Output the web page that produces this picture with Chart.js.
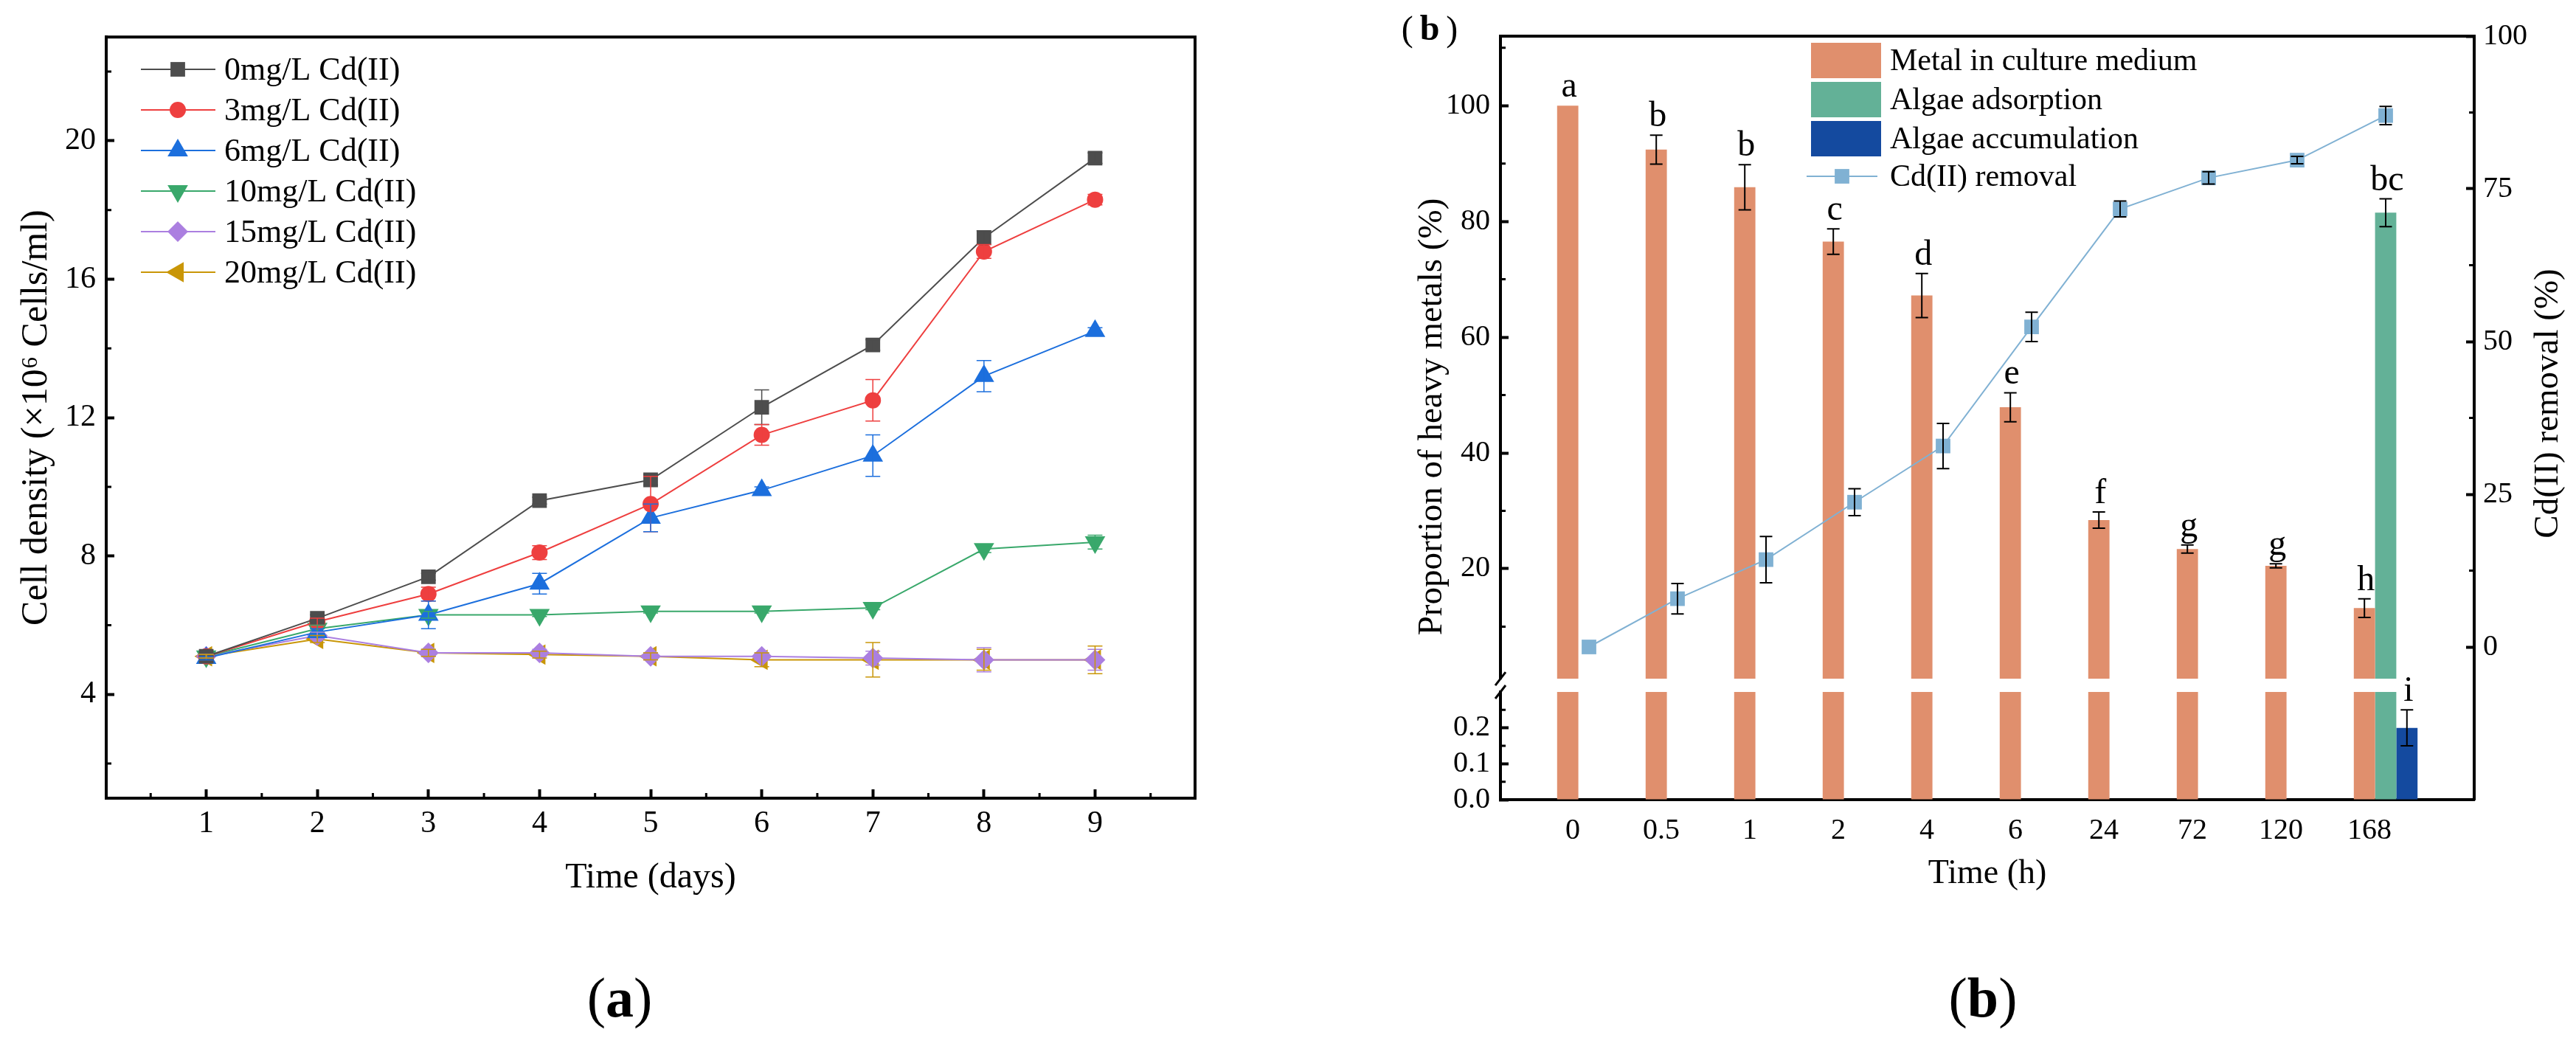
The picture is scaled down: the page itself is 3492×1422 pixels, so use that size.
<!DOCTYPE html>
<html>
<head>
<meta charset="utf-8">
<title>Cd(II) growth and removal</title>
<script src="https://cdn.jsdelivr.net/npm/chart.js@4.4.1/dist/chart.umd.min.js"></script>
<style>
  html, body { margin: 0; padding: 0; background: #fff; }
  #page { position: relative; width: 3492px; height: 1422px; overflow: hidden; }
  #page canvas { position: absolute; top: 0; }
  #growthChart { left: 0; }
  #removalChart { left: 1746px; }
</style>
</head>
<body>
<div id="page">
  <canvas id="growthChart" width="1746" height="1422" style="width:1746px;height:1422px"></canvas>
  <canvas id="removalChart" width="1746" height="1422" style="width:1746px;height:1422px"></canvas>
</div>
<script>
// ---------- (a) cell density ----------
const days = [1, 2, 3, 4, 5, 6, 7, 8, 9];
const cdLabels = ['0mg/L Cd(II)', '3mg/L Cd(II)', '6mg/L Cd(II)', '10mg/L Cd(II)', '15mg/L Cd(II)', '20mg/L Cd(II)'];
const cd0 = [5.1, 6.2, 7.4, 9.6, 10.2, 12.3, 14.1, 17.2, 19.5];
const cd3 = [5.1, 6.1, 6.9, 8.1, 9.5, 11.5, 12.5, 16.8, 18.3];
const cd6 = [5.05, 5.8, 6.3, 7.2, 9.1, 9.9, 10.9, 13.2, 14.5];
const cd10 = [5.1, 5.9, 6.3, 6.3, 6.4, 6.4, 6.5, 8.2, 8.4];
const cd15 = [5.1, 5.7, 5.2, 5.2, 5.1, 5.1, 5.05, 5.0, 5.0];
const cd20 = [5.1, 5.6, 5.2, 5.15, 5.1, 5.0, 5.0, 5.0, 5.0];
const cd0Err = [0.05, 0.1, 0.1, 0.1, 0.15, 0.5, 0.15, 0.2, 0.15];
const cd3Err = [0.05, 0.1, 0.2, 0.2, 0.8, 0.3, 0.6, 0.2, 0.15];
const cd6Err = [0.05, 0.1, 0.4, 0.3, 0.4, 0.1, 0.6, 0.45, 0.1];
const cd10Err = [0.05, 0.1, 0.1, 0.05, 0.05, 0.05, 0.05, 0.1, 0.2];
const cd15Err = [0.05, 0.1, 0.1, 0.1, 0.1, 0.1, 0.2, 0.35, 0.3];
const cd20Err = [0.05, 0.1, 0.1, 0.1, 0.1, 0.2, 0.5, 0.3, 0.4];
const densityTicks = [4, 8, 12, 16, 20];
const densityMinor = [2, 6, 10, 14, 18, 22];
const dayMinor = [0.5, 1.5, 2.5, 3.5, 4.5, 5.5, 6.5, 7.5, 8.5, 9.5];

// ---------- (b) metal distribution / removal ----------
const hours = ['0', '0.5', '1', '2', '4', '6', '24', '72', '120', '168'];
const metalMedium = [100, 92.4, 85.9, 76.5, 67.2, 47.9, 28.4, 23.4, 20.5, 13.2];
const metalMediumErr = [0, 2.5, 3.9, 2.2, 3.8, 2.5, 1.4, 0.7, 0.35, 1.6];
const algaeAdsorption = [null, null, null, null, null, null, null, null, null, 81.5];
const algaeAdsorptionErr = [null, null, null, null, null, null, null, null, null, 2.4];
const algaeAccumulation = [null, null, null, null, null, null, null, null, null, 0.2];
const algaeAccumulationErr = [null, null, null, null, null, null, null, null, null, 0.05];
const metalLetters = ['a', 'b', 'b', 'c', 'd', 'e', 'f', 'g', 'g', 'h'];
const adsorptionLetters = ['', '', '', '', '', '', '', '', '', 'bc'];
const accumulationLetters = ['', '', '', '', '', '', '', '', '', 'i'];
const removal = [0, 7.9, 14.3, 23.7, 32.9, 52.4, 71.7, 76.8, 79.7, 87.0];
const removalErr = [0, 2.5, 3.8, 2.2, 3.7, 2.4, 1.3, 1.0, 0.6, 1.5];
const upperTicks = [20, 40, 60, 80, 100];
const upperMinor = [10, 30, 50, 70, 90, 110];
const lowerTicks = [0, 0.1, 0.2];
const lowerMinor = [0.05, 0.15, 0.25];
const removalTicks = [0, 25, 50, 75, 100];
const removalMinor = [12.5, 37.5, 62.5, 87.5];

const SERIF = '"Liberation Serif", "Times New Roman", serif';
Chart.defaults.font.family = SERIF;
Chart.defaults.color = '#000';

// shared drawing bits
function minorTicks(ctx, scale, values, len) {
  ctx.save();
  ctx.strokeStyle = '#000';
  ctx.lineWidth = 3;
  ctx.beginPath();
  values.forEach(v => {
    const p = scale.getPixelForValue(v);
    if (scale.position === 'left') { ctx.moveTo(scale.right, p); ctx.lineTo(scale.right + len, p); }
    else if (scale.position === 'right') { ctx.moveTo(scale.left, p); ctx.lineTo(scale.left - len, p); }
    else { ctx.moveTo(p, scale.top); ctx.lineTo(p, scale.top - len); }
  });
  ctx.stroke();
  ctx.restore();
}

function errorBar(ctx, x, yHi, yLo, cap) {
  ctx.beginPath();
  ctx.moveTo(x, yHi); ctx.lineTo(x, yLo);
  ctx.moveTo(x - cap, yHi); ctx.lineTo(x + cap, yHi);
  ctx.moveTo(x - cap, yLo); ctx.lineTo(x + cap, yLo);
  ctx.stroke();
}

function panelTag(ctx, letter, cx, cy, size, gap) {
  ctx.save();
  ctx.textBaseline = 'middle';
  ctx.textAlign = 'left';
  ctx.fillStyle = '#000';
  const normal = size + 'px ' + SERIF;
  const bold = 'bold ' + normal;
  ctx.font = normal;
  const wp = ctx.measureText('(').width;
  ctx.font = bold;
  const wl = ctx.measureText(letter).width;
  let x = cx - (2 * wp + wl + 2 * gap) / 2;
  ctx.font = normal; ctx.fillText('(', x, cy); x += wp + gap;
  ctx.font = bold; ctx.fillText(letter, x, cy); x += wl + gap;
  ctx.font = normal; ctx.fillText(')', x, cy);
  ctx.restore();
}

function verticalText(ctx, text, x, y, size) {
  ctx.save();
  ctx.translate(x, y);
  ctx.rotate(-Math.PI / 2);
  ctx.font = size + 'px ' + SERIF;
  ctx.fillStyle = '#000';
  ctx.textAlign = 'center';
  ctx.textBaseline = 'middle';
  ctx.fillText(text, 0, 0);
  ctx.restore();
}

// ---------- chart (a) ----------
const growthSeries = [cd0, cd3, cd6, cd10, cd15, cd20];
const growthErrors = [cd0Err, cd3Err, cd6Err, cd10Err, cd15Err, cd20Err];
const growthColors = ['#4d4d4d', '#ee3f3f', '#1c6fdd', '#39a86b', '#ab7fe0', '#c99607'];
const growthMarkers = [
  { style: 'rect', radius: 14, rotation: 0 },
  { style: 'circle', radius: 11, rotation: 0 },
  { style: 'triangle', radius: 16, rotation: 0 },
  { style: 'triangle', radius: 16, rotation: 180 },
  { style: 'rectRot', radius: 14, rotation: 0 },
  { style: 'triangle', radius: 16, rotation: 270 }
];

const growthExtras = {
  id: 'growthExtras',
  afterDatasetsDraw(chart) {
    const { ctx, scales: { x, y } } = chart;
    ctx.save();
    ctx.lineWidth = 1.5;
    growthSeries.forEach((vals, i) => {
      ctx.strokeStyle = growthColors[i];
      vals.forEach((v, j) => {
        const e = growthErrors[i][j];
        if (!e) return;
        errorBar(ctx, x.getPixelForValue(days[j]), y.getPixelForValue(v + e), y.getPixelForValue(v - e), 10);
      });
    });
    ctx.restore();
  },
  afterDraw(chart) {
    const { ctx, chartArea: a, scales: { x, y } } = chart;
    // frame
    ctx.save();
    ctx.strokeStyle = '#000';
    ctx.lineWidth = 4;
    ctx.strokeRect(a.left, a.top, a.right - a.left, a.bottom - a.top);
    ctx.restore();
    minorTicks(ctx, y, densityMinor, 7);
    minorTicks(ctx, x, dayMinor, 7);
    // legend
    ctx.save();
    ctx.font = '44px ' + SERIF;
    ctx.textBaseline = 'middle';
    ctx.textAlign = 'left';
    chart.data.datasets.forEach((ds, i) => {
      const yy = 94 + 55 * i;
      ctx.strokeStyle = ds.borderColor;
      ctx.fillStyle = ds.borderColor;
      ctx.lineWidth = 2;
      ctx.beginPath();
      ctx.moveTo(191, yy); ctx.lineTo(292, yy);
      ctx.stroke();
      Chart.helpers.drawPoint(ctx, {
        pointStyle: ds.pointStyle, radius: ds.pointRadius, rotation: ds.pointRotation, borderWidth: 0
      }, 241, yy);
      ctx.fillStyle = '#000';
      ctx.fillText(ds.label, 304, yy + 2);
    });
    ctx.restore();
    panelTag(ctx, 'a', 840, 1358, 76, 0);
  }
};

new Chart(document.getElementById('growthChart'), {
  type: 'line',
  data: {
    datasets: growthSeries.map((vals, i) => ({
      label: cdLabels[i],
      data: vals.map((v, j) => ({ x: days[j], y: v })),
      borderColor: growthColors[i],
      backgroundColor: growthColors[i],
      borderWidth: 2,
      pointStyle: growthMarkers[i].style,
      pointRadius: growthMarkers[i].radius,
      pointRotation: growthMarkers[i].rotation,
      pointBorderWidth: 0,
      pointHoverRadius: growthMarkers[i].radius
    }))
  },
  options: {
    responsive: false,
    animation: false,
    devicePixelRatio: 1,
    layout: { padding: { top: 24, right: 126, left: 0, bottom: 0 } },
    plugins: { legend: { display: false }, tooltip: { enabled: false } },
    scales: {
      x: {
        type: 'linear', min: 0.1, max: 9.9,
        afterBuildTicks: s => { s.ticks = days.map(v => ({ value: v })); },
        afterFit: s => { s.height = 340; },
        grid: { drawOnChartArea: false, tickLength: -12, tickWidth: 4, tickColor: '#000' },
        border: { color: '#000', width: 4 },
        ticks: { font: { size: 42 }, padding: 22, color: '#000', maxRotation: 0, autoSkip: false },
        title: { display: true, text: 'Time (days)', font: { size: 48 }, padding: { bottom: 203 } }
      },
      y: {
        type: 'linear', min: 1, max: 23,
        afterBuildTicks: s => { s.ticks = densityTicks.map(v => ({ value: v })); },
        afterFit: s => { s.width = 144; },
        grid: { drawOnChartArea: false, tickLength: -11, tickWidth: 4, tickColor: '#000' },
        border: { color: '#000', width: 4 },
        ticks: { font: { size: 42 }, padding: 25, color: '#000', autoSkip: false },
        title: { display: true, text: 'Cell density (×10⁶ Cells/ml)', font: { size: 50 }, padding: { top: 20 } }
      }
    }
  },
  plugins: [growthExtras]
});

// ---------- chart (b) ----------
const metalColor = '#e08f6d';
const adsorbColor = '#63b197';
const accumColor = '#144a9f';
const removalColor = '#80b1d3';
const upperMin = 1, upperMax = 112, lowerMax = 0.3;

function upperPart(vals) {
  return vals.map((v, i) => ({ x: i, y: v != null && v >= upperMin ? v : null }));
}
function lowerPart(vals) {
  return vals.map((v, i) => ({ x: i, y: v == null ? null : Math.min(v, lowerMax) }));
}

const barDefs = [
  { label: 'Metal in culture medium', vals: metalMedium, err: metalMediumErr, letters: metalLetters, color: metalColor, stack: 'medium' },
  { label: 'Algae adsorption', vals: algaeAdsorption, err: algaeAdsorptionErr, letters: adsorptionLetters, color: adsorbColor, stack: 'adsorption' },
  { label: 'Algae accumulation', vals: algaeAccumulation, err: algaeAccumulationErr, letters: accumulationLetters, color: accumColor, stack: 'accumulation' }
];

const removalDatasets = [];
barDefs.forEach(b => {
  const common = {
    type: 'bar', label: b.label, backgroundColor: b.color, stack: b.stack, order: 1,
    categoryPercentage: 0.72, barPercentage: 1, borderWidth: 0
  };
  removalDatasets.push(Object.assign({}, common, { data: upperPart(b.vals), yAxisID: 'yTop', base: upperMin }));
  removalDatasets.push(Object.assign({}, common, { data: lowerPart(b.vals), yAxisID: 'yBot' }));
});
removalDatasets.push({
  type: 'line', label: 'Cd(II) removal', order: 0, yAxisID: 'y2',
  data: removal.map((v, i) => ({ x: i, y: v })),
  borderColor: removalColor, backgroundColor: removalColor, borderWidth: 2,
  pointStyle: 'rect', pointRadius: 14, pointBorderWidth: 0, pointHoverRadius: 14
});
const removalIndex = removalDatasets.length - 1;

const removalExtras = {
  id: 'removalExtras',
  afterDatasetsDraw(chart) {
    const { ctx, scales } = chart;
    ctx.save();
    ctx.strokeStyle = '#000';
    ctx.fillStyle = '#000';
    ctx.lineWidth = 2;
    ctx.font = '48px ' + SERIF;
    ctx.textAlign = 'center';
    ctx.textBaseline = 'alphabetic';
    barDefs.forEach((b, k) => {
      b.vals.forEach((v, j) => {
        if (v == null) return;
        const upper = v >= upperMin;
        const sc = upper ? scales.yTop : scales.yBot;
        const el = chart.getDatasetMeta(2 * k + (upper ? 0 : 1)).data[j];
        const e = b.err[j] || 0;
        const yHi = sc.getPixelForValue(v + e);
        if (e) errorBar(ctx, el.x, yHi, sc.getPixelForValue(v - e), 8.5);
        ctx.fillText(b.letters[j], el.x + 2, yHi - 12);
      });
    });
    const lm = chart.getDatasetMeta(removalIndex);
    removal.forEach((v, j) => {
      const e = removalErr[j];
      if (!e) return;
      const pt = lm.data[j];
      errorBar(ctx, pt.x, scales.y2.getPixelForValue(v + e), scales.y2.getPixelForValue(v - e), 8.5);
    });
    ctx.restore();
  },
  afterDraw(chart) {
    const { ctx, chartArea: a, scales } = chart;
    ctx.save();
    ctx.strokeStyle = '#000';
    ctx.lineWidth = 4;
    ctx.beginPath();
    ctx.moveTo(a.left - 2, a.top); ctx.lineTo(a.right + 2, a.top);
    ctx.stroke();
    // axis break marks
    ctx.lineWidth = 3;
    [scales.yTop.bottom, scales.yBot.top].forEach(yy => {
      ctx.beginPath();
      ctx.moveTo(a.left - 7, yy + 9); ctx.lineTo(a.left + 7, yy - 9);
      ctx.stroke();
    });
    ctx.restore();
    minorTicks(ctx, scales.yTop, upperMinor, 7);
    minorTicks(ctx, scales.yBot, lowerMinor, 7);
    minorTicks(ctx, scales.y2, removalMinor, 7);
    // legend
    ctx.save();
    ctx.font = '42px ' + SERIF;
    ctx.textBaseline = 'middle';
    ctx.textAlign = 'left';
    barDefs.forEach((b, k) => {
      const top = 58 + 53 * k;
      ctx.fillStyle = b.color;
      ctx.fillRect(709, top, 95, 48);
      ctx.fillStyle = '#000';
      ctx.fillText(b.label, 816, top + 26);
    });
    ctx.strokeStyle = removalColor;
    ctx.fillStyle = removalColor;
    ctx.lineWidth = 2;
    ctx.beginPath();
    ctx.moveTo(703, 239); ctx.lineTo(799, 239);
    ctx.stroke();
    Chart.helpers.drawPoint(ctx, { pointStyle: 'rect', radius: 14, rotation: 0, borderWidth: 0 }, 751, 239);
    ctx.fillStyle = '#000';
    ctx.fillText(chart.data.datasets[removalIndex].label, 816, 241);
    ctx.restore();
    verticalText(ctx, 'Proportion of heavy metals (%)', 196, 565, 47);
    verticalText(ctx, 'Cd(II) removal (%)', 1709, 547, 47);
    panelTag(ctx, 'b', 192, 42, 48, 9);
    panelTag(ctx, 'b', 942, 1358, 76, 0);
  }
};

const leftTicks = { drawOnChartArea: false, tickLength: -11, tickWidth: 4, tickColor: '#000' };
new Chart(document.getElementById('removalChart'), {
  type: 'bar',
  data: { datasets: removalDatasets },
  options: {
    responsive: false,
    animation: false,
    devicePixelRatio: 1,
    layout: { padding: { top: 42, right: 0, left: 0, bottom: 0 } },
    plugins: { legend: { display: false }, tooltip: { enabled: false } },
    scales: {
      x: {
        type: 'linear', min: -1, max: 10, offset: false,
        afterBuildTicks: s => { s.ticks = hours.map((h, i) => ({ value: i })); },
        afterFit: s => { s.height = 338; },
        grid: { display: false, drawTicks: false, offset: false },
        border: { color: '#000', width: 4 },
        ticks: { font: { size: 40 }, padding: 18, labelOffset: -22, autoSkip: false, maxRotation: 0, callback: v => hours[v] },
        title: { display: true, text: 'Time (h)', font: { size: 46 }, padding: { bottom: 209 } }
      },
      yBot: {
        type: 'linear', position: 'left', stack: 'proportion', stackWeight: 147, weight: 1,
        min: 0, max: lowerMax,
        afterBuildTicks: s => { s.ticks = lowerTicks.map(v => ({ value: v })); },
        afterFit: s => { s.width = 288; },
        grid: leftTicks,
        border: { color: '#000', width: 4 },
        ticks: { font: { size: 40 }, padding: 25, autoSkip: false, callback: v => v.toFixed(1) }
      },
      yGap: {
        type: 'linear', position: 'left', stack: 'proportion', stackWeight: 18, weight: 2,
        min: 0, max: 1,
        afterFit: s => { s.width = 288; },
        grid: { display: false, drawTicks: false },
        border: { display: false },
        ticks: { display: false }
      },
      yTop: {
        type: 'linear', position: 'left', stack: 'proportion', stackWeight: 877, weight: 3,
        min: upperMin, max: upperMax,
        afterBuildTicks: s => { s.ticks = upperTicks.map(v => ({ value: v })); },
        afterFit: s => { s.width = 288; },
        grid: leftTicks,
        border: { color: '#000', width: 4 },
        ticks: { font: { size: 40 }, padding: 25, autoSkip: false }
      },
      y2: {
        type: 'linear', position: 'right', min: -25, max: 100,
        afterBuildTicks: s => { s.ticks = removalTicks.map(v => ({ value: v })); },
        afterFit: s => { s.width = 138; },
        grid: { drawOnChartArea: false, tickLength: -11, tickWidth: 4, tickColor: '#000' },
        border: { color: '#000', width: 4 },
        ticks: { font: { size: 40 }, padding: 23, autoSkip: false }
      }
    }
  },
  plugins: [removalExtras]
});
</script>
</body>
</html>
